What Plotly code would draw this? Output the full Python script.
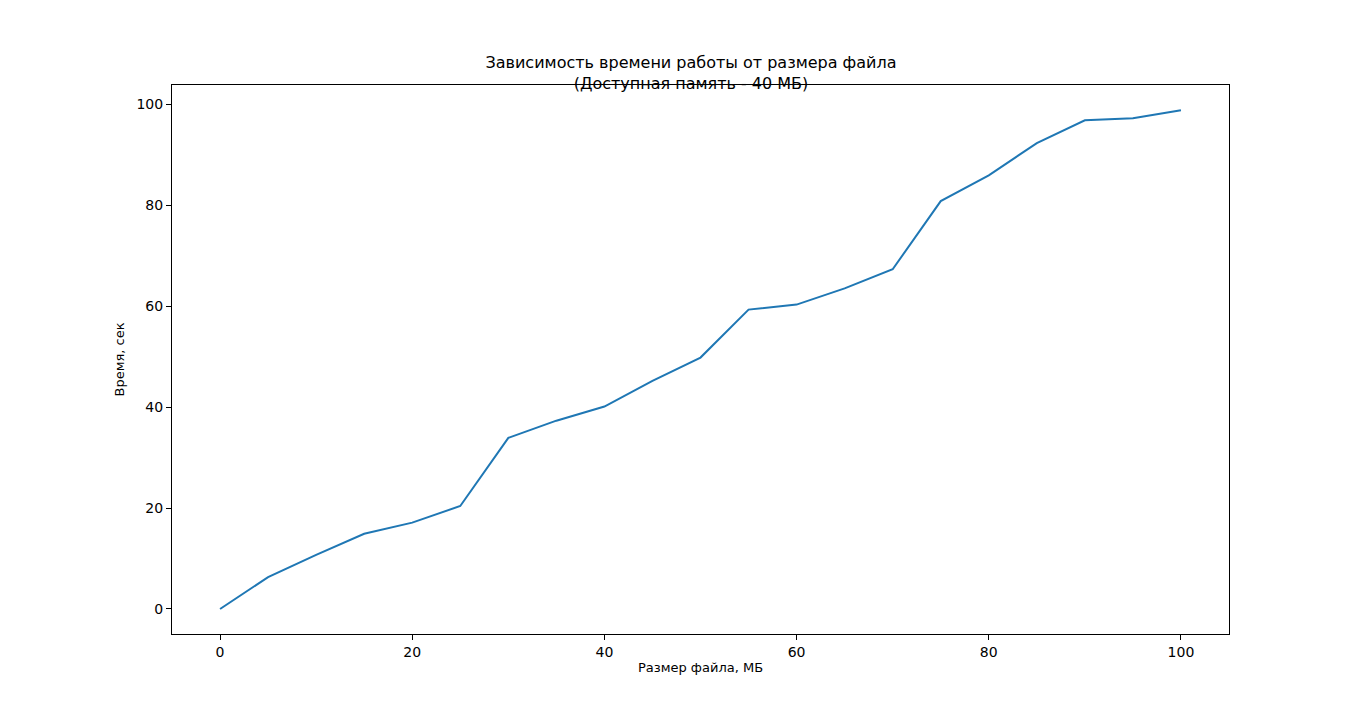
import plotly.graph_objects as go

sizes = [0, 5, 10, 15, 20, 25, 30, 35, 40, 45, 50, 55, 60, 65, 70, 75, 80, 85, 90, 95, 100]
times = [0, 6.3, 10.7, 14.9, 17.1, 20.4, 33.9, 37.3, 40.1, 45.2, 49.8, 59.3, 60.3, 63.5,
         67.3, 80.8, 85.9, 92.3, 96.8, 97.2, 98.8]

fig = go.Figure(go.Scatter(x=sizes, y=times, mode='lines',
                           line=dict(color='#1f77b4', width=2)))

axis_style = dict(showline=True, linecolor='black', linewidth=1, mirror=True,
                  ticks='outside', ticklen=5, tickcolor='black', showgrid=False,
                  zeroline=False, tickfont=dict(size=14))

fig.update_layout(
    width=1366, height=711,
    margin=dict(l=164, r=145, t=77, b=85),
    plot_bgcolor='white', paper_bgcolor='white',
    font=dict(family='DejaVu Sans', color='black', size=13),
    title=dict(text='Зависимость времени работы от размера файла<br>(Доступная память - 40 МБ)',
               x=0.5, xanchor='center', y=0.915, yanchor='middle', font=dict(size=16)),
    xaxis=dict(axis_style, range=[-5, 105], tickvals=[0, 20, 40, 60, 80, 100],
               title=dict(text='Размер файла, МБ', standoff=4, font=dict(size=13))),
    yaxis=dict(axis_style, range=[-4.96, 103.8], tickvals=[0, 20, 40, 60, 80, 100],
               title=dict(text='Время, сек', standoff=8, font=dict(size=13))),
    showlegend=False,
)

fig.write_html("out.html")
